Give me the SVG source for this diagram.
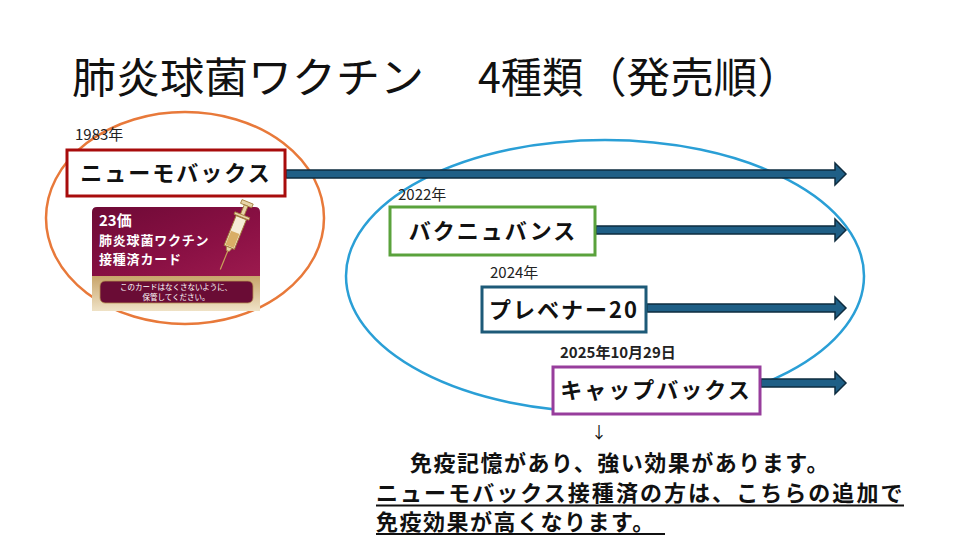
<svg xmlns="http://www.w3.org/2000/svg" width="960" height="540" viewBox="0 0 960 540">
<defs>
<style>
.jp{font-family:"Noto Sans CJK JP","Noto Sans",sans-serif;}
.title{font-size:42px;fill:#111;font-weight:400;}
.year{font-size:15px;fill:#222;}
.box{fill:#fff;stroke-width:3;}
.lbl{font-size:22px;font-weight:700;fill:#111;letter-spacing:2px;text-anchor:middle;}
.arrow{fill:#1f5f86;stroke:#0e2c3f;stroke-width:1.5;stroke-linejoin:miter;}
.note{font-size:22px;font-weight:700;fill:#111;letter-spacing:1.5px;}
.cardw{fill:#fff;font-weight:700;}
</style>
<linearGradient id="cardTop" x1="0" y1="0" x2="1" y2="1">
<stop offset="0" stop-color="#6e0a36"/>
<stop offset="0.6" stop-color="#8a1044"/>
<stop offset="1" stop-color="#9c1a4e"/>
</linearGradient>
<linearGradient id="cardBot" x1="0" y1="0" x2="0" y2="1">
<stop offset="0" stop-color="#c8a46a"/>
<stop offset="1" stop-color="#efe2c6"/>
</linearGradient>
</defs>
<rect width="960" height="540" fill="#fff"/>

<g id="title" class="jp">
<text class="title" x="72" y="93" textLength="352" lengthAdjust="spacingAndGlyphs">肺炎球菌ワクチン</text>
<text class="title" x="478" y="93" textLength="105" lengthAdjust="spacingAndGlyphs">4種類</text>
<text class="title" x="583" y="93" textLength="218" lengthAdjust="spacingAndGlyphs">（発売順）</text>
</g>

<g id="ellipses" fill="none">
<ellipse cx="185" cy="218" rx="139" ry="106" stroke="#e8793a" stroke-width="2.5"/>
<ellipse cx="605" cy="276" rx="259" ry="136" stroke="#2a9fd6" stroke-width="2.5"/>
</g>

<g id="connectors">
<path class="arrow" d="M286,170 H835 V163 L846,174 L835,185 V178 H286 Z"/>
<path class="arrow" d="M596,226 H835 V219 L846,230 L835,241 V234 H596 Z"/>
<path class="arrow" d="M647,304 H835 V297 L846,308 L835,319 V312 H647 Z"/>
<path class="arrow" d="M761,379 H835 V372 L846,383 L835,394 V387 H761 Z"/>
</g>

<g id="node-pneumovax" class="jp">
<text class="year" x="75" y="140">1983年</text>
<rect class="box" x="67" y="150" width="218" height="46" stroke="#a80c0c"/>
<text class="lbl" x="176" y="181">ニューモバックス</text>
</g>

<g id="card" class="jp">
<path d="M92,276 V212 Q92,207 97,207 H255 Q260,207 260,212 V276 Z" fill="url(#cardTop)"/>
<rect x="92" y="276" width="168" height="35" fill="url(#cardBot)"/>
<rect x="100" y="281" width="153" height="22" rx="5" fill="#6a0c35" stroke="#b89050" stroke-width="0.8"/>
<text class="cardw" x="99" y="226" font-size="15">23価</text>
<text class="cardw" x="99" y="245" font-size="13" letter-spacing="0.8">肺炎球菌ワクチン</text>
<text class="cardw" x="99" y="264" font-size="13" letter-spacing="0.8">接種済カード</text>
<text x="176" y="290" font-size="7.5" fill="#fff" text-anchor="middle">このカードはなくさないように、</text>
<text x="176" y="299.5" font-size="7.5" fill="#fff" text-anchor="middle">保管してください。</text>
<g transform="translate(233,238) rotate(22)">
<rect x="-6" y="-39" width="12" height="4" fill="#e8d4a8" stroke="#a07a38" stroke-width="0.8"/>
<rect x="-2" y="-35" width="4" height="11" fill="#e8d4a8" stroke="#a07a38" stroke-width="0.8"/>
<rect x="-8" y="-25" width="16" height="2.5" fill="#e8d4a8" stroke="#a07a38" stroke-width="0.8"/>
<rect x="-5.5" y="-22" width="11" height="32" fill="#f6ecd6" stroke="#a07a38" stroke-width="0.9"/>
<rect x="-4.5" y="-6" width="9" height="15" fill="#d9ae66"/>
<path d="M-3,10 L3,10 L1.5,14 L-1.5,14 Z" fill="#e8d4a8" stroke="#a07a38" stroke-width="0.7"/>
<line x1="0" y1="14" x2="0" y2="34" stroke="#c9a25a" stroke-width="1.2"/>
</g>
</g>

<g id="node-vaxneuvance" class="jp">
<text class="year" x="398" y="200">2022年</text>
<rect class="box" x="390" y="207" width="205" height="48" stroke="#5aa23c"/>
<text class="lbl" x="493" y="239">バクニュバンス</text>
</g>

<g id="node-prevenar20" class="jp">
<text class="year" x="490" y="278">2024年</text>
<rect class="box" x="482" y="287" width="164" height="45" stroke="#1d5a78"/>
<text class="lbl" x="564" y="318" letter-spacing="1">プレベナー20</text>
</g>

<g id="node-capvaxive" class="jp">
<text class="year" x="560" y="358" font-weight="700">2025年10月29日</text>
<rect class="box" x="553" y="367" width="207" height="47" stroke="#973d9c"/>
<text class="lbl" x="656" y="398">キャップバックス</text>
</g>

<g id="notes" class="jp">
<text x="591" y="438" font-size="16" fill="#111">↓</text>
<text class="note" x="410" y="471" textLength="420" lengthAdjust="spacing">免疫記憶があり、強い効果があります。</text>
<text class="note" x="376" y="501" textLength="528" lengthAdjust="spacing">ニューモバックス接種済の方は、こちらの追加で</text>
<text class="note" x="376" y="530">免疫効果が高くなります。</text>
<line x1="376" y1="505.5" x2="904" y2="505.5" stroke="#111" stroke-width="2"/>
<line x1="376" y1="534" x2="665" y2="534" stroke="#111" stroke-width="2"/>
</g>
</svg>
